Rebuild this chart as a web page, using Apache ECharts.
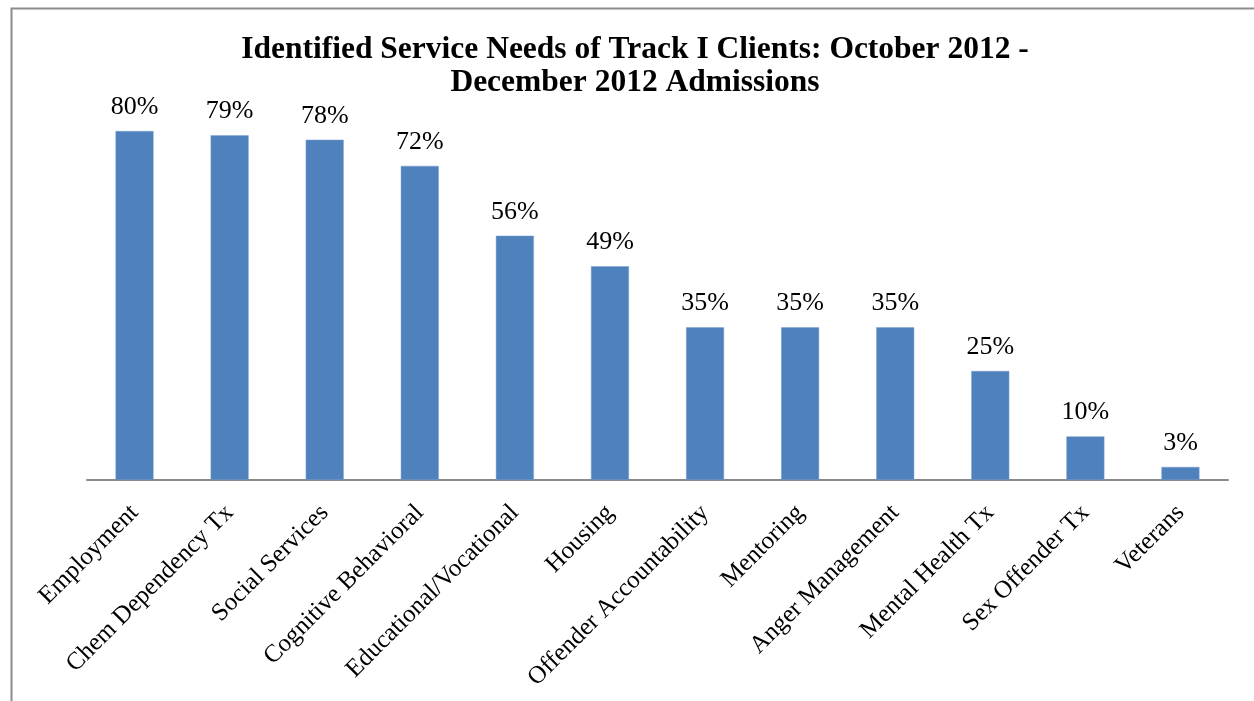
<!DOCTYPE html>
<html>
<head>
<meta charset="utf-8">
<script src="https://cdn.jsdelivr.net/npm/echarts@6/dist/echarts.min.js"></script>
<style>html,body{margin:0;padding:0;background:#fff;}#c{width:1254px;height:701px;}</style>
</head>
<body>
<div id="c"></div>
<script>
const categories = ["Employment","Chem Dependency Tx","Social Services","Cognitive Behavioral","Educational/Vocational","Housing","Offender Accountability","Mentoring","Anger Management","Mental Health Tx","Sex Offender Tx","Veterans"];
const values = [80,79,78,72,56,49,35,35,35,25,10,3];
const titleLines = ["Identified Service Needs of Track I Clients: October 2012 -","December 2012 Admissions"];

const chart = echarts.init(document.getElementById('c'));
chart.setOption({
  animation: false,
  backgroundColor: '#fff',
  graphic: [{
    type: 'rect', left: 9, top: 6,
    shape: { width: 1400, height: 900 },
    style: { fill: 'none', stroke: '#8c8c8c', lineWidth: 2 }
  }],
  title: {
    text: titleLines.join('\n'),
    left: 630, top: 28, textAlign: 'center',
    textStyle: { fontFamily: 'Liberation Serif', fontWeight: 'bold', fontSize: 31.5, lineHeight: 33, color: '#000' }
  },
  grid: { left: 87, right: 26, top: 43.75, bottom: 221 },
  xAxis: {
    type: 'category', data: categories,
    axisLine: { lineStyle: { color: '#898989', width: 2 } },
    axisTick: { show: false },
    axisLabel: { rotate: 45, interval: 0, margin: 29, fontFamily: 'Liberation Serif', fontSize: 25, color: '#000' }
  },
  yAxis: { type: 'value', min: 0, max: 100, show: false, splitLine: { show: false } },
  series: [{
    type: 'bar', data: values, barWidth: 38,
    itemStyle: { color: '#4F81BD', borderColor: '#7aa0d0', borderWidth: 0.5 },
    label: { show: true, position: 'top', distance: 11, formatter: '{c}%', fontFamily: 'Liberation Serif', fontSize: 26, color: '#000' }
  }]
});
</script>
</body>
</html>
